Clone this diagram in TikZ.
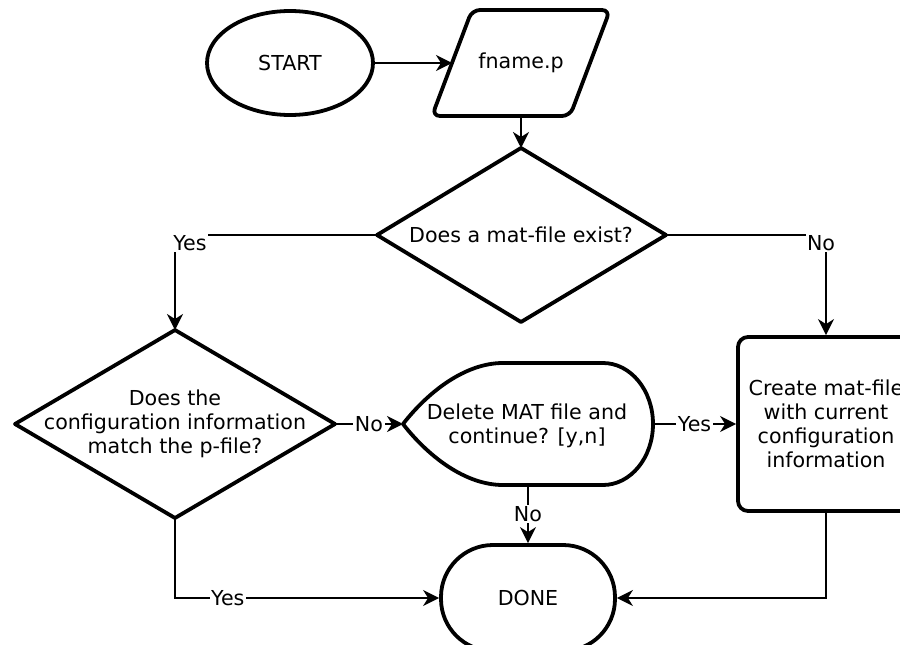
\documentclass[tikz,border=0pt]{standalone}
\usepackage{fontspec}
\setmainfont{DejaVu Sans}
\usetikzlibrary{arrows.meta,shapes.geometric,calc}
\begin{document}
\begin{tikzpicture}[x=1pt,y=-1pt,
  font=\fontsize{20.6}{24}\selectfont,
  shp/.style={line width=3.8pt, line join=round},
  conn/.style={line width=2pt, -{Stealth[length=16pt,width=16pt,inset=5pt]}},
  lbl/.style={fill=white, inner sep=1.5pt},
  txt/.style={align=center, inner sep=0pt}]
\useasboundingbox (0,0) rectangle (900,645);
\clip (0,0) rectangle (900,645);
\fill[white] (0,0) rectangle (900,645);

% START
\node (start) [ellipse, draw, shp, minimum width=166pt, minimum height=104pt] at (290,63) {START};

% fname.p parallelogram
\node (fn) [txt] at (521,63) {fname.p};
\draw[shp, rounded corners=8pt] (472,10) -- (610,10) -- (570,116) -- (432,116) -- cycle;
\coordinate (fnL) at (452,63);
\coordinate (fnB) at (521,116);

% Decision 1
\node (q1) [txt] at (521,235) {Does a mat-file exist?};
\coordinate (q1T) at (521,148);
\coordinate (q1R) at (666,235);
\coordinate (q1B) at (521,322);
\coordinate (q1L) at (377,235);
\draw[shp] (q1T) -- (q1R) -- (q1B) -- (q1L) -- cycle;

% Decision 2
\node (q2) [txt] at (175,424) {Does the\\configuration information\\match the p-file?};
\coordinate (q2T) at (175,330);
\coordinate (q2R) at (335,424);
\coordinate (q2B) at (175,518);
\coordinate (q2L) at (15,424);
\draw[shp] (q2T) -- (q2R) -- (q2B) -- (q2L) -- cycle;

% Delete (display shape)
\node (del) [txt] at (527,426) {Delete MAT file and\\continue? [y,n]};
\coordinate (delL) at (403,424);
\coordinate (delR) at (653,424);
\coordinate (delB) at (528,485);
\draw[shp] (delL) .. controls (428,392) and (465,363) .. (503,363) -- (603,363)
  .. controls (630.6,363) and (653,390.3) .. (delR)
  .. controls (653,457.7) and (630.6,485) .. (603,485) -- (503,485)
  .. controls (465,485) and (428,456) .. (delL) -- cycle;

% Create mat-file
\node (cr) [draw, shp, rounded corners=10pt, minimum width=176pt, minimum height=174pt, align=center] at (826,424) {Create mat-file\\with current\\configuration\\information};

% DONE
\node (done) [draw, shp, rounded corners=52pt, minimum width=174pt, minimum height=106pt] at (528,598) {DONE};

% connectors
\draw[conn] (start.east) -- (fnL);
\draw[conn] (fnB) -- (q1T);
\draw[conn] (q1L) -| (q2T);
\node[lbl] at (190,243) {Yes};
\draw[conn] (q1R) -| (cr.north);
\node[lbl] at (821,243) {No};
\draw[conn] (q2R) -- node[lbl] {No} (delL);
\draw[conn] (delR) -- node[lbl] {Yes} (cr.west);
\draw[conn] (delB) -- node[lbl] {No} (done.north);
\draw[conn] (q2B) |- node[lbl, pos=0.6] {Yes} (done.west);
\draw[conn] (cr.south) |- (done.east);
\end{tikzpicture}
\end{document}
